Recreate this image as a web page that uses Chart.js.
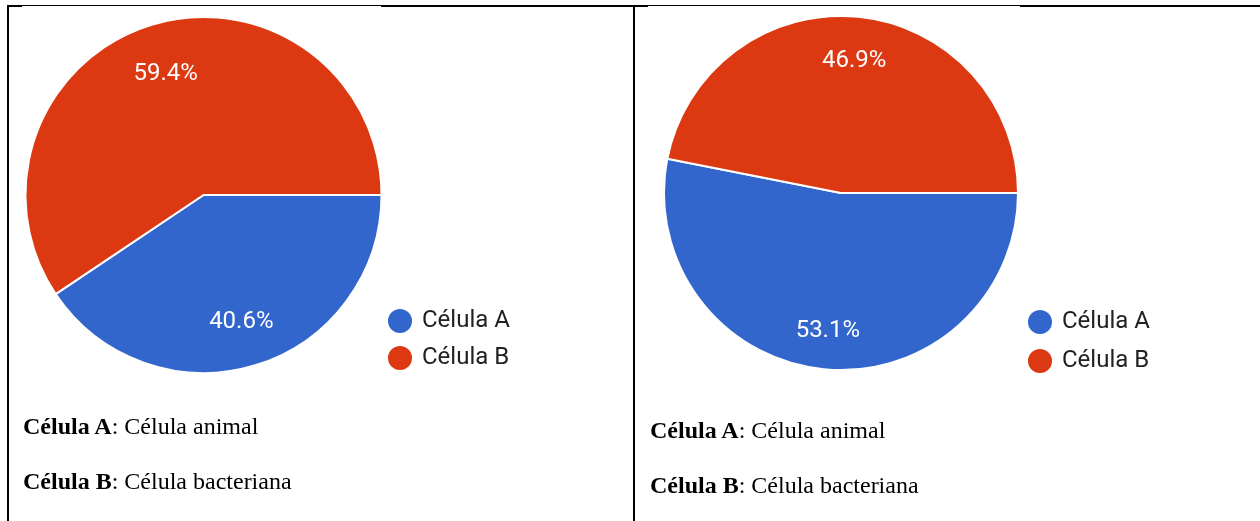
<!DOCTYPE html>
<html lang="pt">
<head>
<meta charset="UTF-8" />
<script src="https://cdn.jsdelivr.net/npm/chart.js@4.4.1/dist/chart.umd.min.js"></script>
<style>
  html, body { margin: 0; padding: 0; background: #fff; }
  body { position: relative; width: 1260px; height: 521px; overflow: hidden; }
  .line { position: absolute; background: #000; z-index: 2; }
  .cover { position: absolute; background: #fff; z-index: 3; }
  canvas { position: absolute; }
  .note { position: absolute; margin: 0; font: 24px 'Liberation Serif', 'Times New Roman', serif; line-height: 24px; color: #000; white-space: nowrap; }
</style>
</head>
<body>
<div class="line" style="left:7px;top:5px;width:1253px;height:2px"></div>
<div class="cover" style="left:22px;top:6px;width:359px;height:1px"></div>
<div class="cover" style="left:648px;top:6px;width:372px;height:1px"></div>
<div class="line" style="left:7px;top:5px;width:2px;height:516px"></div>
<div class="line" style="left:633px;top:5px;width:2px;height:516px"></div>

<canvas id="pieLeft" style="left:0px;top:-40px;width:632px;height:460px"></canvas>
<canvas id="pieRight" style="left:634px;top:-40px;width:626px;height:460px"></canvas>

<p class="note" style="left:23px;top:414px"><b>Célula A</b>: Célula animal</p>
<p class="note" style="left:23px;top:469px"><b>Célula B</b>: Célula bacteriana</p>
<p class="note" style="left:650px;top:418px"><b>Célula A</b>: Célula animal</p>
<p class="note" style="left:650px;top:473px"><b>Célula B</b>: Célula bacteriana</p>

<script>
const categories = ['Célula A', 'Célula B']
const leftValues = [40.6, 59.4]
const rightValues = [53.1, 46.9]
const sliceColors = ['#3366CC', '#DC3912']

const FONT = 'Roboto, Arial, sans-serif'
Chart.defaults.font.family = FONT

// percentage written inside each slice, like google forms does
const pctLabels = {
	id: 'pctLabels',
	afterDatasetsDraw(chart, args, opts) {
		const ctx = chart.ctx
		const meta = chart.getDatasetMeta(0)
		const data = chart.data.datasets[0].data
		const total = data.reduce((a, b) => a + b, 0)
		ctx.save()
		ctx.font = '24px ' + FONT
		ctx.fillStyle = '#ffffff'
		ctx.textAlign = 'center'
		ctx.textBaseline = 'middle'
		meta.data.forEach((arc, i) => {
			const p = arc.getProps(['x', 'y', 'startAngle', 'endAngle', 'outerRadius'], true)
			const mid = (p.startAngle + p.endAngle) / 2
			const r = p.outerRadius * opts.frac
			ctx.fillText((data[i] / total * 100).toFixed(1) + '%', p.x + Math.cos(mid) * r, p.y + Math.sin(mid) * r + 3)
		})
		ctx.restore()
	},
}

// legend box width as chart.js computes it (padding + box + half font + text + 10)
const measure = document.createElement('canvas').getContext('2d')
measure.font = '24px ' + FONT
const textW = Math.max(...categories.map((c) => measure.measureText(c).width))
const legendWidth = (gap) => gap + 20 + 12 + textW + 10

const makePie = (id, values, cfg) => {
	const canvas = document.getElementById(id)
	const w = parseFloat(canvas.style.width)
	const padding = {
		left: cfg.areaLeft,
		right: w - cfg.areaRight - legendWidth(cfg.legendGap),
		top: cfg.top,
		bottom: cfg.bottom,
	}
	return new Chart(canvas, {
		type: 'pie',
		data: {
			labels: categories,
			datasets: [{
				data: values,
				backgroundColor: sliceColors,
				borderColor: '#ffffff',
				borderWidth: 2,
				radius: cfg.radius,
			}],
		},
		options: {
			responsive: false,
			animation: false,
			events: [],
			rotation: 90,
			layout: { padding },
			plugins: {
				tooltip: { enabled: false },
				pctLabels: { frac: cfg.frac },
				legend: {
					position: 'right',
					align: 'end',
					labels: {
						usePointStyle: true,
						pointStyle: 'circle',
						boxWidth: 20,
						boxHeight: 17,
						padding: cfg.legendGap,
						color: '#222222',
						font: { size: 24 },
						generateLabels(chart) {
							const items = Chart.overrides.doughnut.plugins.legend.labels.generateLabels(chart)
							items.forEach((it) => { it.lineWidth = 0; it.strokeStyle = 'rgba(0,0,0,0)' })
							return items
						},
					},
				},
			},
		},
		plugins: [pctLabels],
	})
}

makePie('pieLeft', leftValues, {
	radius: 178,
	frac: 0.73,
	legendGap: 13,
	areaLeft: 30,
	areaRight: 377,
	top: 47,
	bottom: 37,
})
makePie('pieRight', rightValues, {
	radius: 177,
	frac: 0.765,
	legendGap: 15,
	areaLeft: 33,
	areaRight: 381,
	top: 38,
	bottom: 32,
})
</script>
</body>
</html>
